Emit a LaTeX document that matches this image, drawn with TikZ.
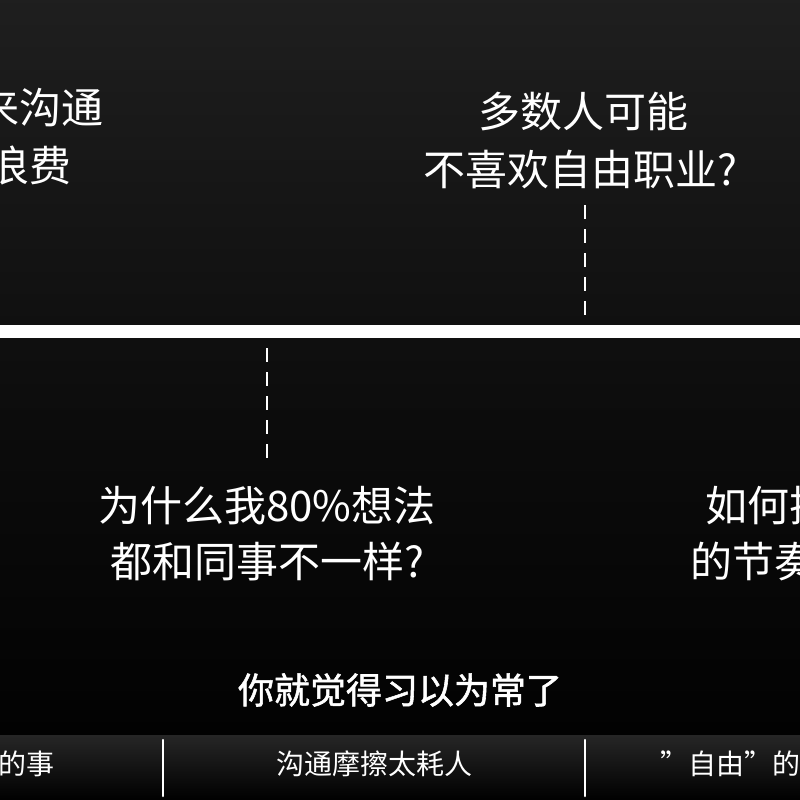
\documentclass[tikz,border=0pt]{standalone}
\usepackage{fontspec}
\setmainfont{Noto Sans CJK SC}
\newfontfamily\cjkb[FakeBold=1.5]{Noto Sans CJK SC}
\begin{document}
\begin{tikzpicture}[x=1pt,y=-1pt,
  big/.style={text=white,font=\fontsize{42}{48}\selectfont,inner sep=0pt},
  small/.style={text=white,font=\fontsize{28}{32}\selectfont,inner sep=0pt},
  dashline/.style={white,line width=2.5pt,dash pattern=on 14pt off 10pt}]
\useasboundingbox (0,0) rectangle (800,800);
\clip (0,0) rectangle (800,800);
\shade[top color=black!88,bottom color=black,middle color=black!95] (0,0) rectangle (800,800);
\shade[top color=black!85,bottom color=black] (0,735) rectangle (800,800);
% main line
\fill[white] (0,325) rectangle (800,338);
% top texts
\node[big,anchor=east] (t1) at (104,108) {来沟通};
\node[big,anchor=east] (t2) at (72,166) {浪费};
\node[big] (t3) at (583,112) {多数人可能};
\node[big] (t4) at (580,170) {不喜欢自由职业?};
\coordinate (d1a) at (585,205); \coordinate (d1b) at (585,322);
\draw[dashline] (d1a) -- (d1b);
% bottom texts
\coordinate (d2a) at (267,348); \coordinate (d2b) at (267,466);
\draw[dashline] (d2a) -- (d2b);
\node[big] (b1) at (267,506) {为什么我80\%想法};
\node[big] (b2) at (267,562) {都和同事不一样?};
\node[big,anchor=west] (b3) at (705,506) {如何把};
\node[big,anchor=west] (b4) at (690,562) {的节奏};
% caption
\node[text=white,inner sep=0pt,font=\cjkb\fontsize{36}{40}\selectfont] (cap) at (400,690) {你就觉得习以为常了};
% bottom strip
\coordinate (s1a) at (163,740); \coordinate (s1b) at (163,796);
\coordinate (s2a) at (585,740); \coordinate (s2b) at (585,796);
\draw[white,line width=2.5pt,line cap=round] (s1a) -- (s1b);
\draw[white,line width=2.5pt,line cap=round] (s2a) -- (s2b);
\node[small,anchor=east] (l1) at (55,764) {的事};
\node[small] (l2) at (374,764) {沟通摩擦太耗人};
\node[small,anchor=west] (l3) at (660,764) {\char34自由\char34的\char34代};
\end{tikzpicture}
\end{document}
